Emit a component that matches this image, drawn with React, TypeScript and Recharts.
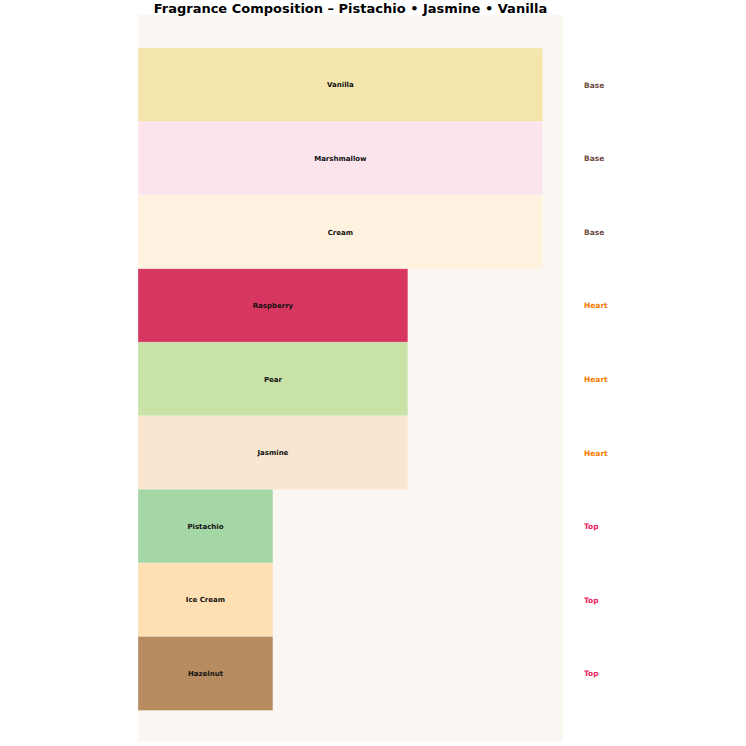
import React from 'react';
import { Bar, BarChart, CartesianGrid, Cell, LabelList, XAxis, YAxis } from 'recharts';

const notes = ['Vanilla', 'Marshmallow', 'Cream', 'Raspberry', 'Pear', 'Jasmine', 'Pistachio', 'Ice Cream', 'Hazelnut'];
const tiers = ['Base', 'Base', 'Base', 'Heart', 'Heart', 'Heart', 'Top', 'Top', 'Top'];
const strength = [3, 3, 3, 2, 2, 2, 1, 1, 1];
const noteColors = ['#f3e5ab', '#fce4ec', '#fff3e0', '#d6365f', '#c8e2a8', '#f8e6d0', '#a5d6a6', '#ffe0b2', '#b68b5f'];
const tierColors: Record<string, string> = { Base: '#6d4c41', Heart: '#f57c00', Top: '#e91e63' };

const data = notes.map((name, i) => ({ name, tier: tiers[i], value: strength[i] }));

const FONT = '"DejaVu Sans", sans-serif';

function TierTick({ x, y, index }: any) {
  const tier = tiers[index ?? 0] ?? '';
  return (
    <text x={x + 13} y={y} dy={3} textAnchor="start" fontFamily={FONT} fontSize={7.5} fontWeight="bold" fill={tierColors[tier]}>
      {tier}
    </text>
  );
}

export default function App() {
  return (
    <div style={{ width: 746, height: 746, position: 'fixed', top: 0, left: 0, background: '#fff' }}>
      <BarChart
        width={746}
        height={746}
        data={data}
        layout="vertical"
        barCategoryGap={0}
        margin={{ top: 15, right: 0, bottom: 4, left: 138 }}
      >
        <CartesianGrid horizontal={false} vertical={false} fill="#faf7f2" />
        <XAxis type="number" domain={[0, 3.15]} hide />
        <YAxis yAxisId="left" type="category" dataKey="name" hide padding={{ top: 33, bottom: 32 }} />
        <YAxis
          yAxisId="right"
          orientation="right"
          type="category"
          dataKey="name"
          width={183}
          axisLine={false}
          tickLine={false}
          padding={{ top: 33, bottom: 32 }}
          tick={<TierTick />}
          interval={0}
        />
        <Bar yAxisId="left" dataKey="value" isAnimationActive={false} stroke="#ffffff" strokeOpacity={0.5} strokeWidth={0.6}>
          {data.map((d, i) => (
            <Cell key={d.name} fill={noteColors[i]} />
          ))}
          <LabelList dataKey="name" position="center" fontFamily={FONT} fontSize={7} fontWeight="bold" fill="#111" />
        </Bar>
      </BarChart>
      <div
        style={{
          position: 'absolute',
          top: 1,
          left: 0,
          width: 701,
          zIndex: 2,
          textAlign: 'center',
          fontFamily: FONT,
          fontWeight: 'bold',
          fontSize: 13,
          lineHeight: '16px',
        }}
      >
        Fragrance Composition – Pistachio • Jasmine • Vanilla
      </div>
    </div>
  );
}
